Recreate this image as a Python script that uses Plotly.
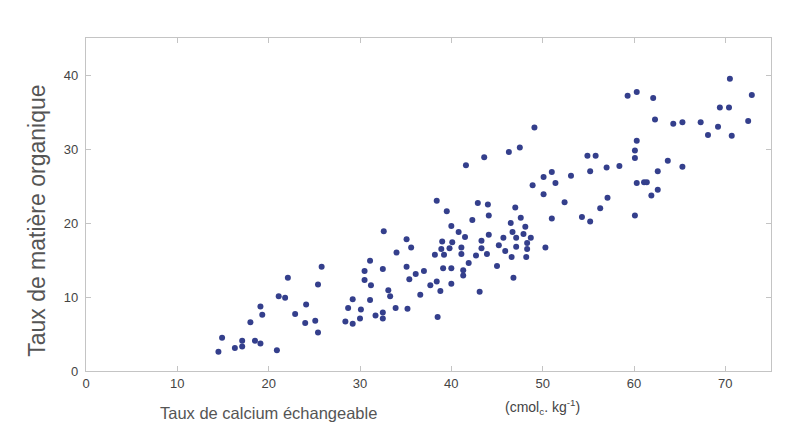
import plotly.graph_objects as go

# Taux de calcium échangeable (cmolc/kg)
calcium = [
    32.6, 34.0, 31.1, 25.8, 30.5, 32.5, 22.1, 30.5, 25.4, 31.2,
    33.1, 33.3, 21.1, 21.8, 29.2, 31.1, 19.1, 24.1, 28.7, 30.1,
    33.9, 19.3, 22.9, 31.7, 32.5, 32.5, 30.0, 28.4, 29.2, 25.1,
    24.0, 18.0, 25.4, 14.9, 17.1, 18.5, 19.1, 16.3, 17.1, 20.9,
    14.5,
    49.1, 47.5, 46.3, 43.6, 41.6, 51.0, 50.1, 53.1, 51.4, 48.9,
    50.1, 52.4, 38.4, 42.9, 44.0, 47.0, 39.5, 44.1, 42.3, 47.6,
    51.0, 46.5, 40.0, 48.1, 40.8, 46.7, 44.1, 41.5, 47.9, 35.1,
    39.0, 40.1, 43.3, 45.7, 47.1, 48.7, 45.2, 48.3, 35.6, 38.9,
    39.8, 41.1, 43.3, 47.1, 48.3, 50.3, 45.9, 38.2, 39.2, 41.1,
    42.7, 43.9, 46.6, 48.2, 41.9, 45.0, 35.1, 39.1, 40.0, 41.3,
    37.0, 36.1, 41.3, 35.4, 46.8, 38.4, 37.7, 40.0, 36.6, 38.8,
    43.1, 35.2, 38.5,
    70.5, 60.3, 59.3, 72.9, 62.1, 69.4, 70.4, 62.3, 72.5, 64.3,
    65.3, 67.3, 69.2, 68.1, 70.7, 60.3, 60.1, 60.1, 54.9, 55.8,
    63.7, 65.3, 58.4, 57.0, 55.2, 62.6, 60.3, 61.1, 61.4, 62.6,
    61.9, 57.1, 56.3, 54.3, 55.2, 60.1,
]

# Taux de matière organique
matiere = [
    18.9, 16.0, 14.9, 14.1, 13.5, 13.8, 12.6, 12.3, 11.7, 11.6,
    10.9, 10.1, 10.1, 9.9, 9.7, 9.6, 8.7, 9.0, 8.5, 8.3,
    8.5, 7.6, 7.7, 7.5, 7.9, 7.1, 7.1, 6.7, 6.4, 6.8,
    6.5, 6.6, 5.2, 4.5, 4.1, 4.1, 3.7, 3.1, 3.3, 2.8,
    2.6,
    32.9, 30.2, 29.6, 28.9, 27.8, 26.9, 26.2, 26.4, 25.4, 25.1,
    23.9, 22.8, 23.0, 22.7, 22.5, 22.1, 21.6, 21.0, 20.4, 20.7,
    20.6, 20.0, 19.6, 19.5, 18.8, 18.8, 18.4, 18.1, 18.5, 17.8,
    17.5, 17.4, 17.6, 18.0, 18.0, 18.0, 17.0, 17.3, 16.7, 16.5,
    16.6, 16.7, 16.6, 16.8, 16.5, 16.7, 16.2, 15.7, 15.7, 15.8,
    15.6, 15.8, 15.4, 15.4, 14.6, 14.2, 14.1, 13.9, 13.9, 13.6,
    13.5, 13.1, 12.9, 12.4, 12.6, 12.1, 11.6, 11.8, 10.3, 10.8,
    10.7, 8.4, 7.3,
    39.5, 37.7, 37.2, 37.3, 36.9, 35.6, 35.6, 34.0, 33.8, 33.4,
    33.6, 33.6, 33.0, 31.9, 31.8, 31.1, 29.8, 28.8, 29.1, 29.1,
    28.4, 27.6, 27.7, 27.5, 27.0, 27.0, 25.4, 25.5, 25.5, 24.5,
    23.7, 23.4, 22.0, 20.8, 20.2, 21.0,
]

x_ticks = [0, 10, 20, 30, 40, 50, 60, 70]
y_ticks = [0, 10, 20, 30, 40]

fig = go.Figure()
fig.add_trace(go.Scatter(
    x=calcium, y=matiere, mode="markers",
    marker=dict(color="#343f8c", size=6, line=dict(width=0)),
    hoverinfo="x+y", showlegend=False,
))

axis_common = dict(
    showgrid=False, zeroline=False, showline=True, linecolor="#c4c4c4",
    linewidth=1.2, mirror="ticks", ticks="inside", ticklen=5,
    tickcolor="#c4c4c4", tickwidth=1,
    tickfont=dict(family="Liberation Sans, Arial, sans-serif", size=13, color="#444444"),
)

fig.update_xaxes(range=[0, 75], tickvals=x_ticks, **axis_common)
fig.update_yaxes(range=[0, 45], tickvals=y_ticks, ticklabelstandoff=4, **axis_common)

fig.update_layout(
    width=792, height=433,
    margin=dict(l=78, r=29, t=30, b=70),
    paper_bgcolor="white", plot_bgcolor="white",
    annotations=[
        dict(text="Taux de matière organique", xref="paper", yref="paper",
             x=-0.072, y=0.45, textangle=-90, showarrow=False,
             xanchor="center", yanchor="middle",
             font=dict(family="Liberation Sans, Arial, sans-serif", size=23, color="#555555")),
        dict(text="Taux de calcium échangeable", xref="paper", yref="paper",
             x=0.266, y=-0.127, showarrow=False,
             xanchor="center", yanchor="middle",
             font=dict(family="Liberation Sans, Arial, sans-serif", size=16.5, color="#555555")),
        dict(text="(cmol<sub>c</sub>. kg<sup>-1</sup>)", xref="paper", yref="paper",
             x=0.667, y=-0.108, showarrow=False,
             xanchor="center", yanchor="middle",
             font=dict(family="Liberation Sans, Arial, sans-serif", size=14, color="#444444")),
    ],
)

fig.write_html("out.html")
